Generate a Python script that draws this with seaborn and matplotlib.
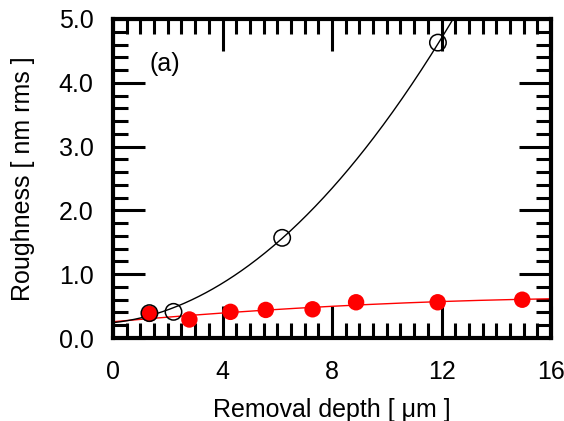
import numpy as np
import matplotlib
matplotlib.use("Agg")
import matplotlib.pyplot as plt
import seaborn as sns
from matplotlib.ticker import MultipleLocator

sns.set_theme(style="white")
plt.rcParams['font.family'] = ['Liberation Sans', 'DejaVu Sans']
plt.rcParams['text.color'] = 'black'
plt.rcParams['axes.labelcolor'] = 'black'
plt.rcParams['xtick.color'] = 'black'
plt.rcParams['ytick.color'] = 'black'

# Open circles (black)
black_x = [1.33, 2.21, 6.18, 11.87]
black_y = [0.39, 0.41, 1.57, 4.63]
# Filled circles (red)
red_x = [1.33, 2.79, 4.29, 5.58, 7.29, 8.88, 11.86, 14.95]
red_y = [0.38, 0.29, 0.41, 0.44, 0.45, 0.56, 0.56, 0.60]
# Fit curve coefficients (c0 + c1 x + c2 x^2)
black_fit = [0.24, 0.0465, 0.0271]
red_fit = [0.255, 0.038, -0.00097]

fig = plt.figure(figsize=(5.64, 4.21), dpi=100)
ax = fig.add_axes([113/564, 1-338/421, 438/564, 319/421])

xs_b = np.linspace(0, 13, 300)
yb = black_fit[0] + black_fit[1]*xs_b + black_fit[2]*xs_b**2
xs_r = np.linspace(0, 16, 300)
yr = red_fit[0] + red_fit[1]*xs_r + red_fit[2]*xs_r**2

sns.lineplot(x=xs_r, y=yr, ax=ax, color='red', lw=1.0, zorder=2)
sns.lineplot(x=xs_b, y=yb, ax=ax, color='black', lw=1.0, zorder=2)
sns.scatterplot(x=red_x, y=red_y, ax=ax, s=140, color='red', edgecolor='none', zorder=3)
ax.scatter(black_x, black_y, s=140, facecolors='none', edgecolors='black', linewidths=1.1, zorder=4)

ax.set_xlim(0, 16)
ax.set_ylim(0, 5)
ax.xaxis.set_major_locator(MultipleLocator(4))
ax.xaxis.set_minor_locator(MultipleLocator(0.5))
ax.yaxis.set_major_locator(MultipleLocator(1))
ax.yaxis.set_minor_locator(MultipleLocator(0.2))
ax.set_yticks([0, 1, 2, 3, 4, 5])
ax.set_yticklabels(['0.0', '1.0', '2.0', '3.0', '4.0', '5.0'])
ax.tick_params(which='both', direction='in', top=True, right=True, bottom=True, left=True,
               width=2.2, color='black')
ax.tick_params(which='major', length=23, labelsize=18)
ax.tick_params(which='minor', length=11)
ax.tick_params(axis='x', which='major', pad=16)
ax.tick_params(axis='y', which='major', pad=14)
for sp in ax.spines.values():
    sp.set_linewidth(3)
    sp.set_color('black')

ax.set_xlabel('Removal depth [ μm ]', fontsize=18, labelpad=10)
ax.set_ylabel('Roughness [ nm rms ]', fontsize=18, labelpad=17)
ax.text(1.35, 4.29, '(a)', fontsize=18, ha='left', va='center')

fig.savefig('out.png', dpi=100)
